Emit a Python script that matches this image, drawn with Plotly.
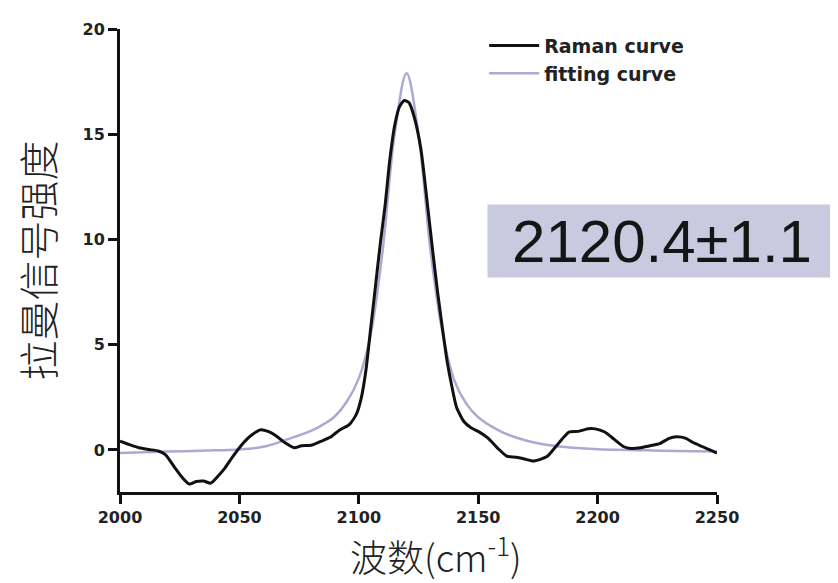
import plotly.graph_objects as go

raman_x = [2000, 2004, 2008, 2012, 2016, 2019, 2023, 2026, 2029, 2032, 2035, 2038, 2041, 2044, 2047,
           2051, 2055, 2059, 2062, 2065, 2069, 2073, 2076, 2080, 2084, 2088, 2092, 2096, 2099, 2101,
           2103, 2105, 2107, 2109, 2111, 2113, 2115, 2117, 2119, 2121, 2123, 2126, 2129, 2131, 2133,
           2135, 2137, 2139, 2141, 2144, 2147, 2150, 2154, 2158, 2162, 2166, 2170, 2173, 2176, 2179,
           2182, 2185, 2188, 2192, 2196, 2199, 2203, 2207, 2211, 2214, 2218, 2222, 2226, 2230, 2233,
           2237, 2240, 2244, 2248, 2250]
raman_y = [0.42, 0.25, 0.1, 0.02, -0.05, -0.22, -0.85, -1.3, -1.62, -1.5, -1.48, -1.58, -1.25, -0.85, -0.35,
           0.25, 0.7, 0.96, 0.88, 0.7, 0.35, 0.1, 0.2, 0.22, 0.4, 0.6, 0.95, 1.2, 1.7, 2.45,
           3.8, 5.8, 7.8, 9.8, 11.6, 13.8, 15.4, 16.3, 16.6, 16.5, 15.9, 14.3, 11.4, 9.4, 7.5,
           5.8, 4.2, 3.0, 2.0, 1.35, 1.05, 0.88, 0.57, 0.1, -0.3, -0.35, -0.45, -0.53, -0.45, -0.3,
           0.09, 0.5, 0.85, 0.88, 1.0, 1.0, 0.85, 0.5, 0.15, 0.07, 0.1, 0.2, 0.3, 0.55, 0.62,
           0.55, 0.35, 0.15, -0.05, -0.15]

fit_x = [2000, 2020, 2040, 2050, 2060, 2070, 2080, 2085, 2090, 2095, 2100, 2105, 2110, 2115, 2120,
         2125, 2130, 2135, 2140, 2145, 2150, 2160, 2170, 2180, 2190, 2200, 2220, 2240, 2250]
fit_y = [-0.15, -0.08, -0.02, 0.02, 0.15, 0.5, 0.9, 1.2, 1.6, 2.3, 3.4, 5.5, 9.5, 15.0, 17.9,
         15.0, 9.5, 5.6, 3.3, 2.2, 1.55, 0.85, 0.45, 0.22, 0.1, 0.03, -0.02, -0.06, -0.08]

x_ticks = [2000, 2050, 2100, 2150, 2200, 2250]
y_ticks = [0, 5, 10, 15, 20]

fig = go.Figure()
fig.add_trace(go.Scatter(x=fit_x, y=fit_y, mode="lines", name="fitting curve",
                         line=dict(color="#aaaad2", width=2.5, shape="spline"), legendrank=2))
fig.add_trace(go.Scatter(x=raman_x, y=raman_y, mode="lines", name="Raman curve",
                         line=dict(color="#111111", width=3, shape="spline", smoothing=0.6),
                         legendrank=1))

tickfont = dict(family="DejaVu Sans", size=16, color="#222222", weight="bold")
L, R, T, B = 112, 129, 18, 99
fig.update_layout(
    width=838, height=583,
    margin=dict(l=L, r=R, t=T, b=B),
    paper_bgcolor="white", plot_bgcolor="white",
    showlegend=True,
    legend=dict(x=0.61, y=1.005, xanchor="left", yanchor="top",
                font=dict(family="DejaVu Sans", size=19, color="#222222", weight="bold"),
                bgcolor="rgba(0,0,0,0)", tracegroupgap=0, itemwidth=50),
    xaxis=dict(range=[2000, 2250], tickvals=x_ticks, ticks="outside", ticklen=9, tickwidth=2.5,
               tickcolor="#111", showline=True, linecolor="#111", linewidth=3,
               showgrid=False, zeroline=False, tickfont=tickfont),
    yaxis=dict(range=[-2, 20], tickvals=y_ticks, ticks="outside", ticklen=9, tickwidth=2.5,
               tickcolor="#111", showline=True, linecolor="#111", linewidth=3,
               showgrid=False, zeroline=False, tickfont=tickfont),
)

pw, ph = 838 - L - R, 583 - T - B
def px_to_paper(px, py):
    return (px - L) / pw, (583 - B - py) / ph

bx, by = px_to_paper(654, 231)
tx, ty = px_to_paper(28, 251)
ax_, ay_ = px_to_paper(428, 547)
fig.add_annotation(text="2120.4±1.1", x=bx, y=by, xref="paper", yref="paper",
                   xanchor="center", yanchor="middle", showarrow=False,
                   font=dict(family="Arial", size=60, color="#151515"),
                   bgcolor="#c9c9df", width=348, height=72, borderpad=0)
fig.add_annotation(text="拉曼信号强度", x=tx, y=ty, xref="paper", yref="paper",
                   xanchor="center", yanchor="middle", showarrow=False, textangle=-90,
                   font=dict(family="Noto Sans CJK SC", size=40, color="#222222", weight=300))
fig.add_annotation(text="波数(cm<sup>-1</sup>)", x=ax_, y=ay_, xref="paper", yref="paper",
                   xanchor="center", yanchor="middle", showarrow=False,
                   font=dict(family="Noto Sans CJK SC", size=37, color="#222222", weight=300))

fig.write_html("out.html")
